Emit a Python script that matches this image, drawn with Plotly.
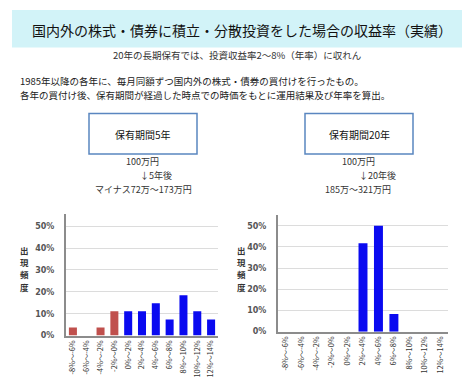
import plotly.graph_objects as go

categories = ["-8%～-6%", "-6%～-4%", "-4%～-2%", "-2%～0%", "0%～2%", "2%～4%",
              "4%～6%", "6%～8%", "8%～10%", "10%～12%", "12%～14%"]
freq_5y = [0.037, 0.0, 0.037, 0.111, 0.111, 0.111, 0.148, 0.074, 0.185, 0.111, 0.074]
freq_20y = [0.0, 0.0, 0.0, 0.0, 0.0, 0.417, 0.50, 0.083, 0.0, 0.0, 0.0]
y_ticks = [0, 0.1, 0.2, 0.3, 0.4, 0.5]
y_label_chars = ["出", "現", "頻", "度"]

RED = "#c0504d"
BLUE = "#0a0af0"
colors_5y = [RED if c.startswith("-") else BLUE for c in categories]
colors_20y = [RED if c.startswith("-") else BLUE for c in categories]

W, H = 470, 377
def px(x):
    return x / W
def py(y):
    return 1 - y / H

FONT = "Noto Sans CJK JP"

fig = go.Figure()
fig.add_trace(go.Bar(x=categories, y=freq_5y, marker=dict(color=colors_5y, line=dict(width=0)),
                     xaxis="x", yaxis="y", showlegend=False))
fig.add_trace(go.Bar(x=categories, y=freq_20y, marker=dict(color=colors_20y, line=dict(width=0)),
                     xaxis="x2", yaxis="y2", showlegend=False))

axis_common_x = dict(type="category", showline=True, linecolor="#8c8c8c", linewidth=2,
                     tickangle=-90, tickfont=dict(family=FONT, size=7.3, color="#333333"),
                     showgrid=False, ticks="", fixedrange=True)
axis_common_y = dict(range=[0, 0.555], tickvals=y_ticks, tickformat=".0%", showline=True,
                     linecolor="#8c8c8c", linewidth=2, showgrid=True, gridcolor="#dcdcdc",
                     gridwidth=1, zeroline=False, ticks="", ticklabelstandoff=8,
                     tickfont=dict(family="DejaVu Sans", size=8, color="#555555", weight="bold"),
                     fixedrange=True)

fig.update_layout(
    width=W, height=H,
    margin=dict(l=0, r=0, t=0, b=0),
    paper_bgcolor="white", plot_bgcolor="white",
    bargap=0.42,
    xaxis=dict(domain=[px(58), px(210)], anchor="y", **axis_common_x),
    yaxis=dict(domain=[py(332), py(209)], anchor="x", **axis_common_y),
    xaxis2=dict(domain=[px(270), px(440)], anchor="y2", **axis_common_x),
    yaxis2=dict(domain=[py(328), py(210)], anchor="x2", **axis_common_y),
)
fig.layout.yaxis2.range = [0, 0.55]

shapes = [
    dict(type="rect", xref="paper", yref="paper", x0=px(4), x1=px(467), y0=py(40), y1=py(2),
         fillcolor="#d2f3f8", line=dict(width=0), layer="below"),
    dict(type="rect", xref="paper", yref="paper", x0=px(81), x1=px(189), y0=py(148), y1=py(107),
         fillcolor="white", line=dict(color="#5a86c0", width=1.5)),
    dict(type="rect", xref="paper", yref="paper", x0=px(297), x1=px(405), y0=py(148), y1=py(107),
         fillcolor="white", line=dict(color="#5a86c0", width=1.5)),
]
fig.update_layout(shapes=shapes)

def ann(text, x, y, size, xanchor="center", color="#222222", bold=False, family=FONT):
    return dict(text=text, x=px(x), y=py(y), xref="paper", yref="paper", showarrow=False,
                xanchor=xanchor, yanchor="middle",
                font=dict(family=family, size=size, color=color, weight="bold" if bold else "normal"))

anns = [
    ann("国内外の株式・債券に積立・分散投資をした場合の収益率（実績）", 234, 22, 14, color="#111111"),
    ann("20年の長期保有では、投資収益率2～8%（年率）に収れん", 229, 48, 9.5, color="#333333"),
    ann("1985年以降の各年に、毎月同額ずつ国内外の株式・債券の買付けを行ったもの。", 10, 74, 9.5,
        xanchor="left", color="#222222"),
    ann("各年の買付け後、保有期間が経過した時点での時価をもとに運用結果及び年率を算出。", 10, 88, 9.5,
        xanchor="left", color="#222222"),
    ann("保有期間5年", 135, 128, 10, color="#111111"),
    ann("保有期間20年", 351, 128, 10, color="#111111"),
    ann("100万円", 134, 156, 9, color="#333333"),
    ann("↓5年後", 148, 170, 9, color="#333333"),
    ann("マイナス72万～173万円", 135, 184, 9, color="#333333"),
    ann("100万円", 350, 156, 9, color="#333333"),
    ann("↓20年後", 369, 170, 9, color="#333333"),
    ann("185万～321万円", 350, 184, 9, color="#333333"),
]
for i, ch in enumerate(y_label_chars):
    anns.append(ann(ch, 16, 245 + i * 12.5, 8.5, color="#333333", bold=True))
    anns.append(ann(ch, 233, 245 + i * 12.5, 8.5, color="#333333", bold=True))
fig.update_layout(annotations=anns)

fig.write_html("out.html")
